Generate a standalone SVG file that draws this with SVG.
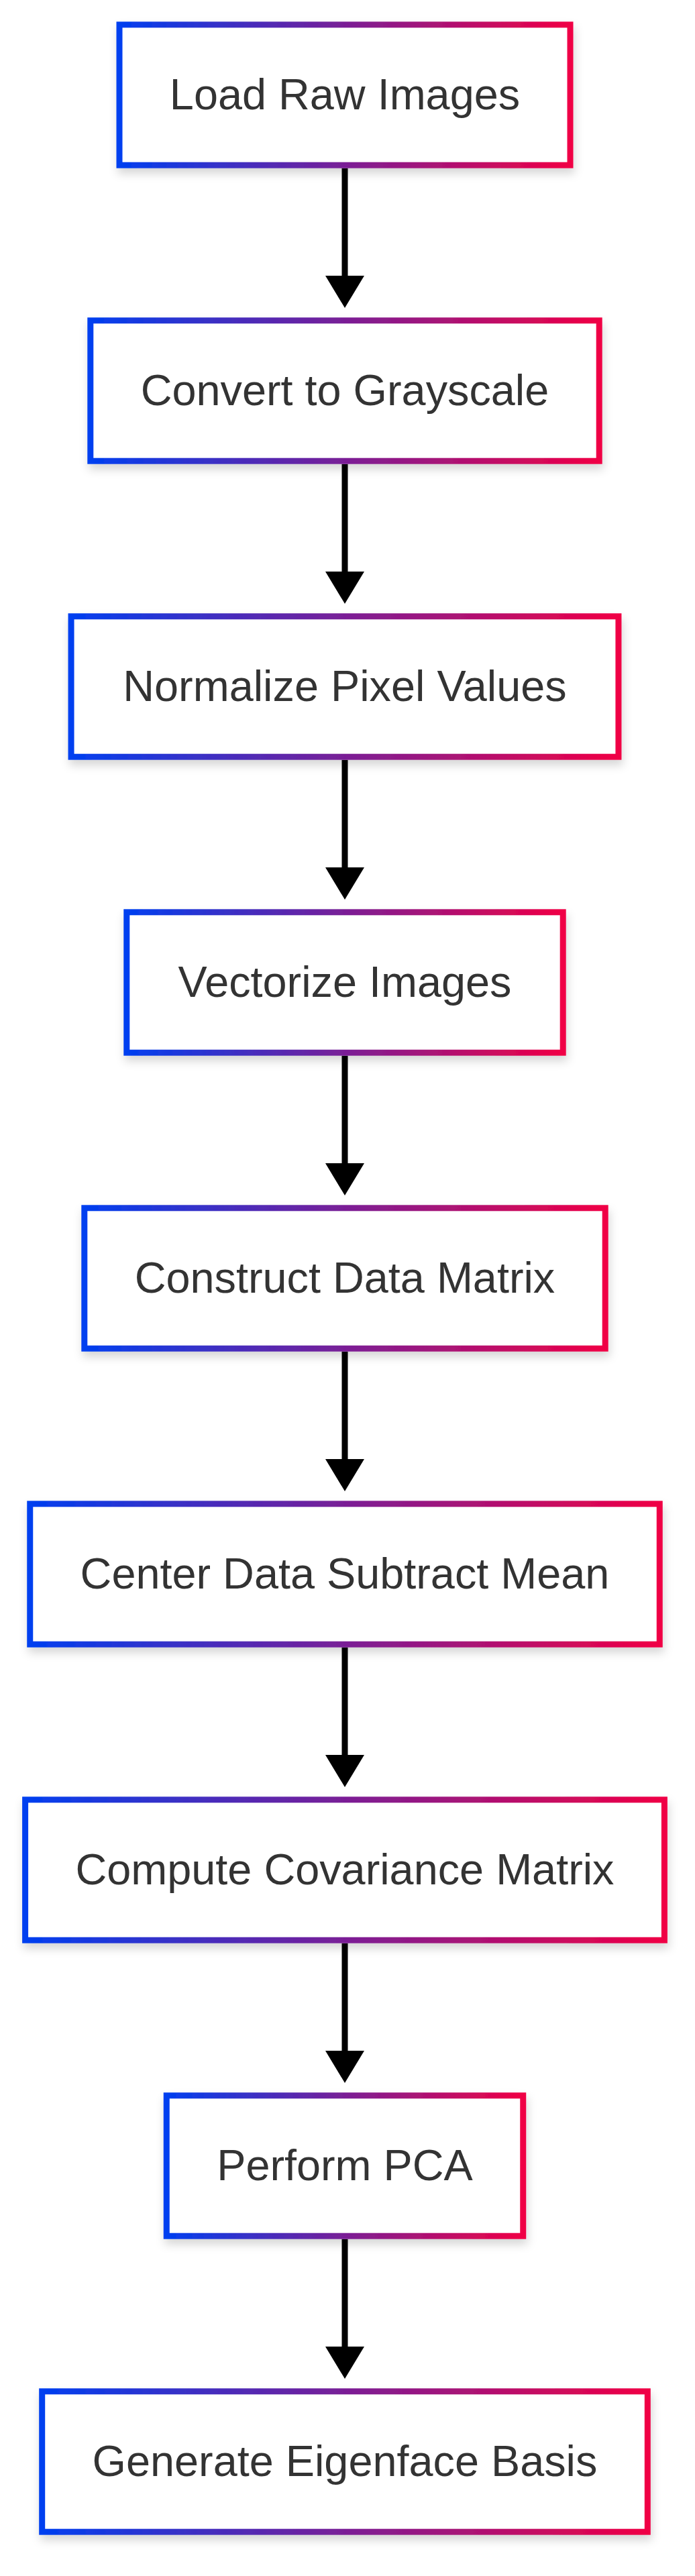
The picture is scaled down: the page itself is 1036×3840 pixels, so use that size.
<svg xmlns="http://www.w3.org/2000/svg" width="1036" height="3840" viewBox="0 0 1036 3840">
<defs>
<linearGradient id="grad" x1="0" y1="0" x2="1" y2="0">
<stop offset="0" stop-color="#003ff0"/>
<stop offset="0.5" stop-color="#7a1f96"/>
<stop offset="1" stop-color="#f00045"/>
</linearGradient>
<filter id="shadow" x="-10%" y="-20%" width="120%" height="150%">
<feDropShadow dx="2" dy="8" stdDeviation="7" flood-color="#000" flood-opacity="0.16"/>
</filter>
<marker id="arrow" viewBox="0 0 48 58" refX="0" refY="29" markerWidth="48" markerHeight="58" markerUnits="userSpaceOnUse" orient="auto">
<path d="M0,0 L48,29 L0,58 z" fill="#000"/>
</marker>
<style>
.box{fill:#fff;stroke:url(#grad);stroke-width:9;filter:url(#shadow)}
.lbl{font-family:"Liberation Sans",Arial,Helvetica,sans-serif;font-size:64.8px;fill:#333;text-anchor:middle}
.edge{stroke:#000;stroke-width:9;fill:none;marker-end:url(#arrow)}
</style>
</defs>
<rect width="1036" height="3840" fill="#fff"/>
<g id="connectors">
<line class="edge" x1="514" y1="250.7" x2="514" y2="411"/>
<line class="edge" x1="514" y1="691.7" x2="514" y2="852"/>
<line class="edge" x1="514" y1="1132.7" x2="514" y2="1293"/>
<line class="edge" x1="514" y1="1573.7" x2="514" y2="1734"/>
<line class="edge" x1="514" y1="2014.7" x2="514" y2="2175"/>
<line class="edge" x1="514" y1="2455.7" x2="514" y2="2616"/>
<line class="edge" x1="514" y1="2896.7" x2="514" y2="3057"/>
<line class="edge" x1="514" y1="3337.7" x2="514" y2="3498"/>
</g>
<g id="n1"><rect class="box" x="178" y="36.8" width="672" height="209.4"/><text class="lbl" x="514" y="163">Load Raw Images</text></g>
<g id="n2"><rect class="box" x="134.8" y="477.8" width="758.4" height="209.4"/><text class="lbl" x="514" y="604">Convert to Grayscale</text></g>
<g id="n3"><rect class="box" x="106.05" y="918.8" width="815.9" height="209.4"/><text class="lbl" x="514" y="1045">Normalize Pixel Values</text></g>
<g id="n4"><rect class="box" x="188.8" y="1359.8" width="650.4" height="209.4"/><text class="lbl" x="514" y="1486">Vectorize Images</text></g>
<g id="n5"><rect class="box" x="125.8" y="1800.8" width="776.4" height="209.4"/><text class="lbl" x="514" y="1927">Construct Data Matrix</text></g>
<g id="n6"><rect class="box" x="44.75" y="2241.8" width="938.5" height="209.4"/><text class="lbl" x="514" y="2368">Center Data Subtract Mean</text></g>
<g id="n7"><rect class="box" x="37.6" y="2682.8" width="952.8" height="209.4"/><text class="lbl" x="514" y="2809">Compute Covariance Matrix</text></g>
<g id="n8"><rect class="box" x="248.25" y="3123.8" width="531.5" height="209.4"/><text class="lbl" x="514" y="3250">Perform PCA</text></g>
<g id="n9"><rect class="box" x="62.7" y="3564.8" width="902.6" height="209.4"/><text class="lbl" x="514" y="3691">Generate Eigenface Basis</text></g>
</svg>
